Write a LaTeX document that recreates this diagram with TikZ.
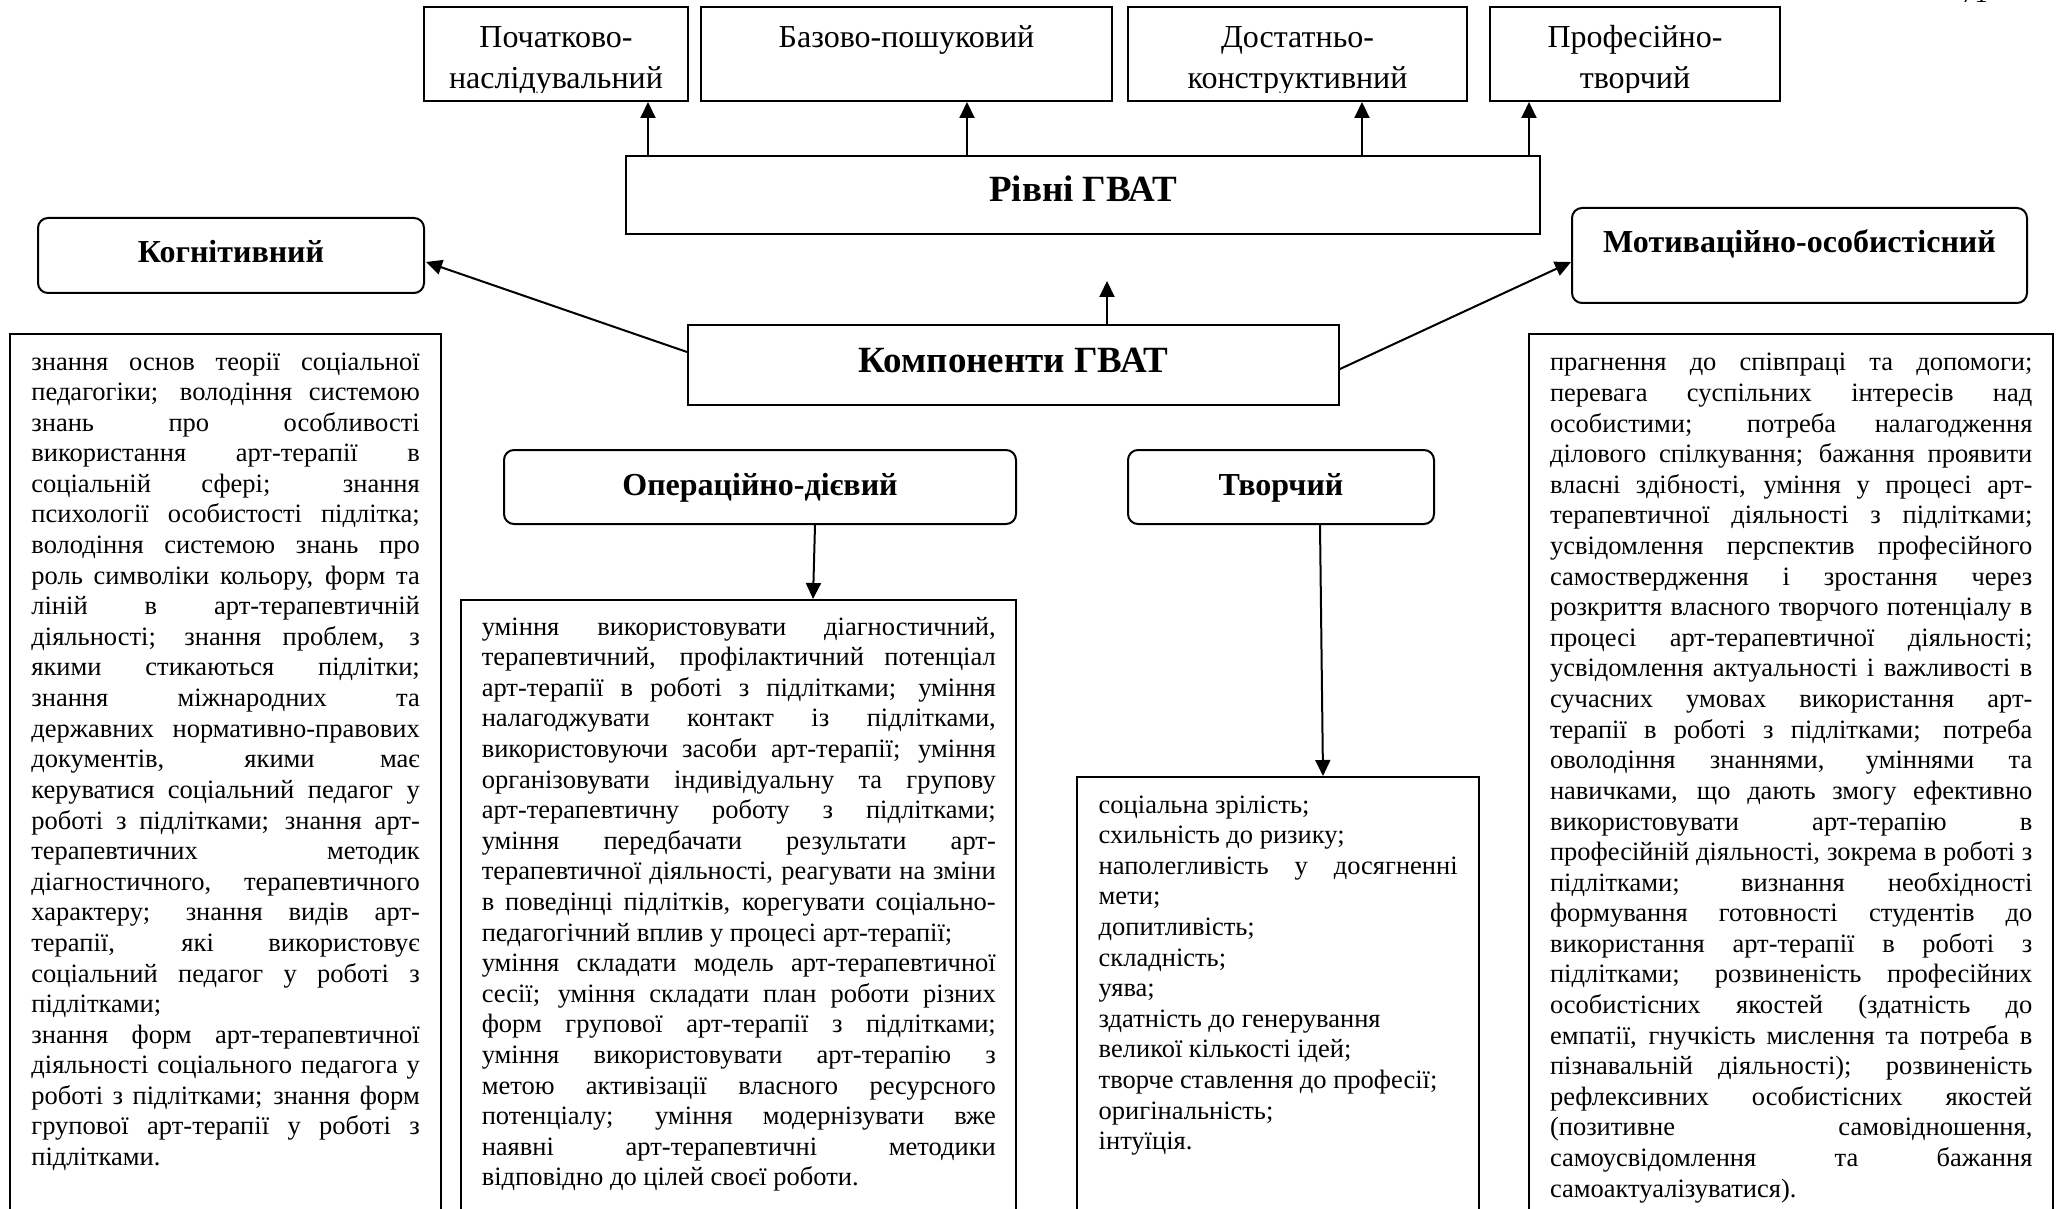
\documentclass[tikz,border=0pt]{standalone}
\usepackage{fontspec}
\setmainfont{Liberation Serif}
\usetikzlibrary{arrows.meta,calc}
\newcommand\bodyfnt{\fontsize{13.25pt}{15.3pt}\selectfont\tolerance=10000\hbadness=10000\hyphenpenalty=10000\exhyphenpenalty=10000\relax}
\newcommand\topfnt{\fontsize{16pt}{20.5pt}\selectfont}
\newcommand\headfnt{\fontsize{16pt}{19pt}\selectfont\bfseries}
\newcommand\bigfnt{\fontsize{18.5pt}{22pt}\selectfont\bfseries}
\begin{document}
\begin{tikzpicture}[x=0.5pt,y=-0.5pt,
  plainbox/.style={draw, line width=1pt, inner sep=0pt, rectangle},
  rbox/.style={draw, line width=1pt, inner sep=0pt, rounded corners=5pt},
  arr/.style={line width=1pt, -{Triangle[length=8pt,width=7.5pt]}},
  bodytext/.style={font=\bodyfnt, align=justify, inner sep=0pt, anchor=base west},
  toptext/.style={font=\topfnt, align=center, inner sep=0pt, anchor=base}]
\useasboundingbox (0,0) rectangle (2056,1209);
\fill[white] (0,0) rectangle (2056,1209);
\clip (0,0) rectangle (2056,1209);

% page number fragment
\node (pgnum) [font=\bodyfnt, inner sep=0pt, anchor=base west] at (1961,3) {71};

% level boxes
\node (lvl1) [plainbox, minimum width=132pt, minimum height=47pt] at (556,54) {};
\node (lvl2) [plainbox, minimum width=205.5pt, minimum height=47pt] at (906.5,54) {};
\node (lvl3) [plainbox, minimum width=169.5pt, minimum height=47pt] at (1297.5,54) {};
\node (lvl4) [plainbox, minimum width=145pt, minimum height=47pt] at (1635,54) {};
\begin{scope}
  \clip (lvl1.north west) rectangle ([yshift=4.5pt]lvl1.south east);
  \node (lvl1t) [toptext, text width=132pt] at (556,48) {Початково-\\наслідувальний};
\end{scope}
\begin{scope}
  \clip (lvl2.north west) rectangle ([yshift=4.5pt]lvl2.south east);
  \node (lvl2t) [toptext, text width=205.5pt] at (906.5,48) {Базово-пошуковий};
\end{scope}
\begin{scope}
  \clip (lvl3.north west) rectangle ([yshift=4.5pt]lvl3.south east);
  \node (lvl3t) [toptext, text width=169.5pt] at (1297.5,48) {Достатньо-\\конструктивний};
\end{scope}
\begin{scope}
  \clip (lvl4.north west) rectangle ([yshift=4.5pt]lvl4.south east);
  \node (lvl4t) [toptext, text width=145pt] at (1635,48) {Професійно-\\творчий};
\end{scope}

% main boxes
\node (rivni) [plainbox, minimum width=457pt, minimum height=39pt, text height=13.5pt, text depth=6.5pt, font=\bigfnt] at (1083,195) {Рівні ГВАТ};
\node (komp) [plainbox, minimum width=325.5pt, minimum height=40pt, text height=13.5pt, text depth=6.5pt, font=\bigfnt] at (1013.5,365) {Компоненти ГВАТ};

% component headers
\node (kog) [rbox, minimum width=193pt, minimum height=37.5pt, text height=11.5pt, text depth=4pt, font=\headfnt] at (231,255.5) {Когнітивний};
\node (motiv) [rbox, minimum width=227.5pt, minimum height=47.5pt, text height=11pt, text depth=13.5pt, font=\headfnt] at (1799.5,255.5) {Мотиваційно-особистісний};
\node (oper) [rbox, minimum width=256pt, minimum height=37pt, text height=12pt, text depth=4pt, font=\headfnt] at (760,487) {Операційно-дієвий};
\node (tvor) [rbox, minimum width=153pt, minimum height=37pt, text height=12pt, text depth=4pt, font=\headfnt] at (1281,487) {Творчий};

% content boxes
\node (kogbox) [plainbox, minimum width=215.5pt, minimum height=463pt] at (225.5,797) {};
\node (operbox) [plainbox, minimum width=277.5pt, minimum height=330pt] at (738.5,930) {};
\node (tvorbox) [plainbox, minimum width=201pt, minimum height=241.5pt] at (1278,1018.5) {};
\node (motbox) [plainbox, minimum width=262pt, minimum height=463pt] at (1791,797) {};

\node (kogtxt) [bodytext, text width=194.2pt] at (31,370) {знання основ теорії соціальної\linebreak педагогіки; володіння системою\linebreak знань про особливості\linebreak використання арт-терапії в\linebreak соціальній сфері; знання\linebreak психології особистості підлітка;\linebreak володіння системою знань про\linebreak роль символіки кольору, форм та\linebreak ліній в арт-терапевтичній\linebreak діяльності; знання проблем, з\linebreak якими стикаються підлітки;\linebreak знання міжнародних та\linebreak державних нормативно-правових\linebreak документів, якими має\linebreak керуватися соціальний педагог у\linebreak роботі з підлітками; знання арт-\linebreak терапевтичних методик\linebreak діагностичного, терапевтичного\linebreak характеру; знання видів арт-\linebreak терапії, які використовує\linebreak соціальний педагог у роботі з\linebreak підлітками;\par
знання форм арт-терапевтичної\linebreak діяльності соціального педагога у\linebreak роботі з підлітками; знання форм\linebreak групової арт-терапії у роботі з\linebreak підлітками.};

\node (opertxt) [bodytext, text width=257pt] at (481.4,635) {уміння використовувати діагностичний,\linebreak терапевтичний, профілактичний потенціал\linebreak арт-терапії в роботі з підлітками; уміння\linebreak налагоджувати контакт із підлітками,\linebreak використовуючи засоби арт-терапії; уміння\linebreak організовувати індивідуальну та групову\linebreak арт-терапевтичну роботу з підлітками;\linebreak уміння передбачати результати арт-\linebreak терапевтичної діяльності, реагувати на зміни\linebreak в поведінці підлітків, корегувати соціально-\linebreak педагогічний вплив у процесі арт-терапії;\par
уміння складати модель арт-терапевтичної\linebreak сесії; уміння складати план роботи різних\linebreak форм групової арт-терапії з підлітками;\linebreak уміння використовувати арт-терапію з\linebreak метою активізації власного ресурсного\linebreak потенціалу; уміння модернізувати вже\linebreak наявні арт-терапевтичні методики\linebreak відповідно до цілей своєї роботи.};

\node (tvortxt) [bodytext, text width=179.5pt] at (1098.3,813) {соціальна зрілість;\par схильність до ризику;\par наполегливість у досягненні\linebreak мети;\par допитливість;\par складність;\par уява;\par здатність до генерування\par великої кількості ідей;\par творче ставлення до професії;\par оригінальність;\par інтуїція.};

\node (mottxt) [bodytext, text width=241.2pt] at (1549.6,371) {прагнення до співпраці та допомоги;\linebreak перевага суспільних інтересів над\linebreak особистими; потреба налагодження\linebreak ділового спілкування; бажання проявити\linebreak власні здібності, уміння у процесі арт-\linebreak терапевтичної діяльності з підлітками;\linebreak усвідомлення перспектив професійного\linebreak самоствердження і зростання через\linebreak розкриття власного творчого потенціалу в\linebreak процесі арт-терапевтичної діяльності;\linebreak усвідомлення актуальності і важливості в\linebreak сучасних умовах використання арт-\linebreak терапії в роботі з підлітками; потреба\linebreak оволодіння знаннями, уміннями та\linebreak навичками, що дають змогу ефективно\linebreak використовувати арт-терапію в\linebreak професійній діяльності, зокрема в роботі з\linebreak підлітками; визнання необхідності\linebreak формування готовності студентів до\linebreak використання арт-терапії в роботі з\linebreak підлітками; розвиненість професійних\linebreak особистісних якостей (здатність до\linebreak емпатії, гнучкість мислення та потреба в\linebreak пізнавальній діяльності); розвиненість\linebreak рефлексивних особистісних якостей\linebreak (позитивне самовідношення,\linebreak самоусвідомлення та бажання\linebreak самоактуалізуватися).};

% connectors
\draw[arr] (648,0 |- rivni.north) -- (648,0 |- lvl1.south);
\draw[arr] (967,0 |- rivni.north) -- (967,0 |- lvl2.south);
\draw[arr] (1362,0 |- rivni.north) -- (1362,0 |- lvl3.south);
\draw[arr] (1529,0 |- rivni.north) -- (1529,0 |- lvl4.south);
\coordinate (kup) at (1107,281);
\draw[arr] (1107,0 |- komp.north) -- (kup);
\draw[arr] ($(komp.west)+(0,-13)$) -- ($(kog.east)+(1,6.5)$);
\draw[arr] ($(komp.east)+(0,4)$) -- ($(motiv.west)+(0,6.5)$);
\draw[arr] (815,0 |- oper.south) -- (813,0 |- operbox.north);
\draw[arr] (1320,0 |- tvor.south) -- (1323,0 |- tvorbox.north);
\end{tikzpicture}
\end{document}
